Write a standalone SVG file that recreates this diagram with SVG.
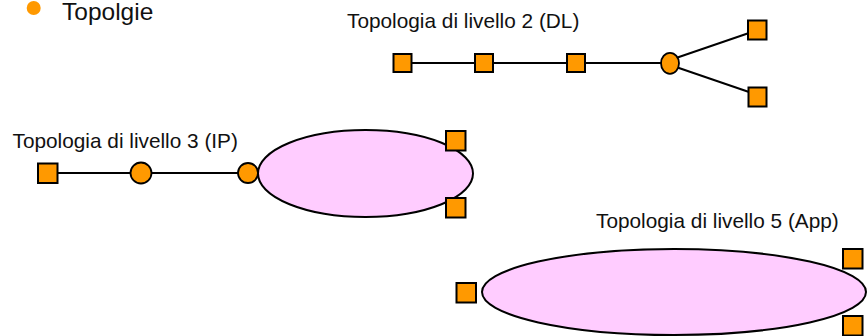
<svg xmlns="http://www.w3.org/2000/svg" width="867" height="336" viewBox="0 0 867 336">
<style>
  .lbl { font-family: "Liberation Sans", Arial, sans-serif; font-size: 20.8px; fill: #111; }
  .title { font-family: "Liberation Sans", Arial, sans-serif; font-size: 24.5px; fill: #111; }
  .sq { fill: #FF9900; stroke: #000; stroke-width: 2; }
  .nd { fill: #FF9900; stroke: #000; stroke-width: 1.8; }
  .cloud { fill: #FFCCFF; stroke: #000; stroke-width: 2; }
  .ln { stroke: #000; stroke-width: 2; fill: none; }
</style>
<rect width="867" height="336" fill="#fff"/>
<g id="heading">
  <circle cx="33.7" cy="8" r="7" fill="#FF9900"/>
  <text class="title" x="62" y="19.5">Topolgie</text>
</g>
<g id="labels">
  <text class="lbl" x="347" y="28">Topologia di livello 2 (DL)</text>
  <text class="lbl" x="12.5" y="148">Topologia di livello 3 (IP)</text>
  <text class="lbl" x="596" y="228">Topologia di livello 5 (App)</text>
</g>
<g id="connectors">
  <line class="ln" x1="402" y1="63" x2="669" y2="63"/>
  <line class="ln" x1="676" y1="58" x2="749" y2="33"/>
  <line class="ln" x1="676" y1="67" x2="749" y2="92"/>
  <line class="ln" x1="47" y1="173" x2="248" y2="173"/>
</g>
<g id="l2-sq1"><rect class="sq" x="393.5" y="54" width="18" height="18"/></g>
<g id="l2-sq2"><rect class="sq" x="475" y="54" width="18" height="18"/></g>
<g id="l2-sq3"><rect class="sq" x="567" y="54" width="18" height="18"/></g>
<g id="l2-node"><ellipse class="nd" cx="670" cy="63.3" rx="9" ry="10.5"/></g>
<g id="l2-sq4"><rect class="sq" x="748" y="20.5" width="18.5" height="19"/></g>
<g id="l2-sq5"><rect class="sq" x="748.5" y="87.5" width="18" height="19"/></g>

<g id="l3-sq1"><rect class="sq" x="38" y="163.5" width="19.5" height="19.5"/></g>
<g id="l3-node1"><circle class="nd" cx="141" cy="173" r="10.5"/></g>
<g id="l3-node2"><circle class="nd" cx="248" cy="173" r="10"/></g>
<g id="l3-cloud"><ellipse class="cloud" cx="365.5" cy="173.5" rx="107.5" ry="43.5"/></g>
<g id="l3-sq2"><rect class="sq" x="446" y="131" width="19.5" height="19.5"/></g>
<g id="l3-sq3"><rect class="sq" x="446" y="198" width="19.5" height="19.5"/></g>

<g id="l5-cloud"><ellipse class="cloud" cx="674" cy="292" rx="192" ry="43"/></g>
<g id="l5-sq1"><rect class="sq" x="456.5" y="283" width="19.5" height="19.5"/></g>
<g id="l5-sq2"><rect class="sq" x="843" y="249" width="19.5" height="19.5"/></g>
<g id="l5-sq3"><rect class="sq" x="843" y="316" width="19.5" height="19.5"/></g>
</svg>
